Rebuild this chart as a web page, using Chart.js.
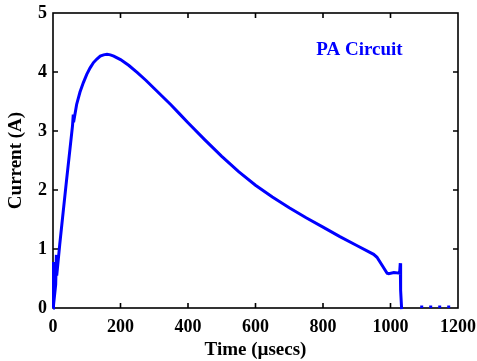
<!DOCTYPE html>
<html>
<head>
<meta charset="utf-8">
<script src="https://cdn.jsdelivr.net/npm/chart.js@4/dist/chart.umd.min.js"></script>
<style>
  html, body { margin: 0; padding: 0; background: #fff; }
  #wrap { width: 477px; height: 361px; position: relative; }
</style>
</head>
<body>
<div id="wrap"><canvas id="chart"></canvas></div>
<script>
// --- DATA ---
const timeUs = [0, 1, 2, 8, 10, 11, 20, 30, 40, 50, 58, 60, 61, 70, 80, 90, 100, 110, 120, 130, 140, 150, 160, 170, 180, 190,
  200, 225, 250, 275, 300, 325, 350, 375, 400, 450, 500, 550, 600, 650, 700, 750, 800, 850, 900, 950, 960, 990, 995,
  1010, 1027, 1029, 1030, 1033];
const currentA = [0, 0.78, 0.05, 0.4, 0.9, 0.55, 1.08, 1.62, 2.16, 2.68, 3.1, 3.28, 3.15, 3.45, 3.66, 3.82, 3.96, 4.07, 4.16,
  4.22, 4.27, 4.29, 4.30, 4.29, 4.27, 4.24, 4.21, 4.11, 3.99, 3.86, 3.72, 3.58, 3.44, 3.29, 3.14, 2.85, 2.57, 2.31, 2.08,
  1.88, 1.70, 1.53, 1.37, 1.21, 1.06, 0.91, 0.86, 0.59, 0.58, 0.60, 0.59, 0.76, 0.3, -0.02];
// dotted residue after the pulse
const tailTime = [1088, 1190];
const tailCurrent = [0.02, 0.02];

const xTicks = [0, 200, 400, 600, 800, 1000, 1200];
const yTicks = [0, 1, 2, 3, 4, 5];
const label = { text: 'PA Circuit', x: 780, y: 4.37 };

const BLUE = '#0000ff';
const SERIF = "'Liberation Serif', 'Times New Roman', serif";

// --- FRAME + INWARD TICKS ---
const framePlugin = {
  id: 'frame',
  beforeDatasetsDraw(chart) {
    const { ctx, chartArea: a, scales: { x, y } } = chart;
    ctx.save();
    ctx.strokeStyle = '#000';
    ctx.lineWidth = 1.6;
    ctx.strokeRect(a.left, a.top, a.right - a.left, a.bottom - a.top);
    const len = 5;
    ctx.beginPath();
    xTicks.slice(1, -1).forEach(v => {
      const px = x.getPixelForValue(v);
      ctx.moveTo(px, a.bottom); ctx.lineTo(px, a.bottom - len);
      ctx.moveTo(px, a.top); ctx.lineTo(px, a.top + len);
    });
    yTicks.slice(1, -1).forEach(v => {
      const py = y.getPixelForValue(v);
      ctx.moveTo(a.left, py); ctx.lineTo(a.left + len, py);
      ctx.moveTo(a.right, py); ctx.lineTo(a.right - len, py);
    });
    ctx.stroke();
    ctx.restore();
  },
  afterDatasetsDraw(chart) {
    const { ctx, scales: { x, y } } = chart;
    ctx.save();
    ctx.fillStyle = BLUE;
    ctx.font = `bold 19px ${SERIF}`;
    ctx.textAlign = 'left';
    ctx.textBaseline = 'middle';
    ctx.fillText(label.text, x.getPixelForValue(label.x), y.getPixelForValue(label.y));
    ctx.restore();
  }
};

const tickFont = { family: SERIF, size: 18, weight: 'bold' };
const titleFont = { family: SERIF, size: 19, weight: 'bold' };

new Chart(document.getElementById('chart'), {
  type: 'line',
  data: {
    datasets: [
      {
        data: timeUs.map((t, i) => ({ x: t, y: currentA[i] })),
        borderColor: BLUE,
        borderWidth: 3,
        pointRadius: 0,
        tension: 0,
        fill: false,
        clip: 4
      },
      {
        data: tailTime.map((t, i) => ({ x: t, y: tailCurrent[i] })),
        borderColor: BLUE,
        borderWidth: 2.5,
        borderDash: [3, 6],
        pointRadius: 0,
        fill: false,
        clip: 4
      }
    ]
  },
  options: {
    responsive: true,
    maintainAspectRatio: false,
    animation: false,
    layout: { padding: { top: 13, right: 19, left: 0, bottom: 0 } },
    plugins: { legend: { display: false }, tooltip: { enabled: false } },
    scales: {
      x: {
        type: 'linear',
        min: 0, max: 1200,
        afterBuildTicks: s => { s.ticks = xTicks.map(v => ({ value: v })); },
        afterFit: s => { s.height = 53; s.paddingLeft = 0; s.paddingRight = 0; },
        grid: { drawOnChartArea: false, drawTicks: false },
        border: { display: false },
        ticks: { color: '#000', padding: 9, maxRotation: 0, font: tickFont, callback: v => String(v) },
        title: { display: true, text: 'Time (\u00b5secs)', color: '#000', padding: { top: 0, bottom: 0 }, font: titleFont }
      },
      y: {
        min: 0, max: 5,
        afterBuildTicks: s => { s.ticks = yTicks.map(v => ({ value: v })); },
        afterFit: s => { s.width = 53; s.paddingTop = 0; s.paddingBottom = 0; },
        grid: { drawOnChartArea: false, drawTicks: false },
        border: { display: false },
        ticks: { color: '#000', padding: 6, font: tickFont, callback: v => String(v) },
        title: { display: true, text: 'Current (A)', color: '#000', padding: { top: 5, bottom: 0 }, font: titleFont }
      }
    }
  },
  plugins: [framePlugin]
});
</script>
</body>
</html>
